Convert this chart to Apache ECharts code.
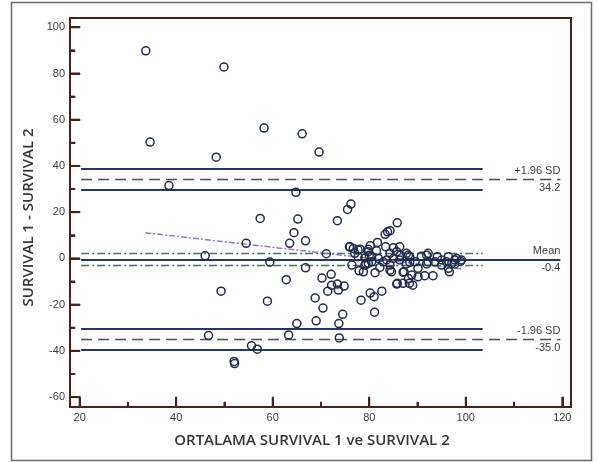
<!DOCTYPE html>
<html>
<head>
<meta charset="utf-8">
<script src="https://cdn.jsdelivr.net/npm/echarts@6/dist/echarts.min.js"></script>
<style>
  html, body { margin: 0; padding: 0; background: #ffffff; }
  #chart { width: 597px; height: 462px; }
</style>
</head>
<body>
<div id="chart"></div>
<script>
// Bland-Altman: mean of the two survival estimates vs. their difference
const points = [
  [33.7, 89.8], [34.6, 50.3], [49.9, 82.8], [48.3, 43.8], [58.2, 56.4], [38.5, 31.5],
  [66.1, 53.9], [69.6, 46.0], [64.8, 28.6], [57.4, 17.3], [65.2, 17.0], [64.4, 11.1],
  [73.4, 16.3], [76.2, 23.5], [75.5, 21.2], [66.8, 7.6], [63.5, 6.5], [54.5, 6.5],
  [46.0, 1.1], [59.4, -1.6], [66.8, -4.1], [75.9, 5.0], [77.7, 3.6], [77.9, -5.4],
  [62.8, -9.2], [70.2, -8.5], [72.1, -6.9], [79.1, -2.9], [79.8, 2.9], [71.1, 2.0],
  [49.3, -14.2], [58.9, -18.5], [46.7, -33.4], [55.6, -37.8], [56.8, -39.3],
  [52.1, -45.5], [52.0, -44.6], [65.0, -28.2], [63.3, -33.1], [72.2, -11.6],
  [73.4, -11.1], [74.8, -12.0], [73.6, -13.7], [71.4, -14.2], [68.8, -17.1],
  [70.4, -21.5], [69.0, -27.0], [74.5, -24.2], [73.7, -28.2], [73.8, -34.4],
  [81.2, -6.2], [84.6, -5.8], [85.7, -11.1], [82.6, -14.2], [80.2, -15.0],
  [81.0, -16.6], [78.3, -18.1], [81.1, -23.3], [85.8, -10.8], [87.0, -10.8],
  [88.3, -10.8], [89.0, -11.6], [88.1, -8.7], [87.2, -5.8], [91.5, -7.5],
  [93.2, -7.5], [96.6, -5.8], [90.1, -4.3], [82.2, -3.9], [84.3, -5.1],
  [76.4, -2.9], [79.3, -2.2], [76.0, 5.0], [78.1, 4.0], [80.2, 5.5], [81.7, 6.9],
  [83.4, 5.0], [85.0, 4.6], [86.3, 5.0], [83.3, 10.4], [84.3, 12.0], [81.5, 3.3],
  [77.0, 2.2], [91.9, 1.4], [94.1, 0.7], [96.0, -1.5], [97.7, -0.7], [98.9, -1.3],
  [97.1, -2.2], [92.2, -1.5], [90.8, 0.9], [88.4, 0.7], [89.5, -1.5], [87.7, -2.4],
  [86.3, -0.7], [85.0, 0.0], [83.6, -0.7], [81.9, 0.0], [80.5, -1.5], [79.1, 0.2],
  [77.7, 0.7], [80.0, 1.4], [84.3, 2.2], [85.7, 2.9], [87.7, 2.2], [93.6, -1.5],
  [95.0, -0.7], [85.8, 15.4], [83.8, 11.5], [79.8, 3.9], [76.7, 4.3], [88.1, 1.4],
  [92.2, 2.2], [96.4, 0.7], [98.1, 0.0], [99.1, -0.7], [88.4, -1.7], [91.9, -2.4],
  [95.0, -2.9], [97.7, -2.4], [87.0, -6.0], [88.8, -7.2], [90.1, -8.0], [96.4, -4.3],
  [80.5, 0.7], [82.9, -1.5], [84.3, -2.9], [79.8, -2.2], [86.4, 1.4], [78.8, -5.8]
];

// Agreement statistics
const meanDiff = -0.4;
const upperLimit = 34.2;
const lowerLimit = -35.0;
const limitCiHalf = 4.7;   // 95% CI half-width of each limit of agreement
const meanCiHalf = 2.6;    // 95% CI half-width of the mean difference
const regressionEnds = [[33.6, 11.1], [99.0, -4.5]];

// Axis ranges and ticks
const xRange = [18, 121.8];
const yRange = [-64.3, 104];
const xTicksMajor = [20, 40, 60, 80, 100, 120];
const xTicksMinor = [30, 50, 70, 90, 110];
const yTicksMajor = [-60, -40, -20, 0, 20, 40, 60, 80, 100];
const yTicksMinor = [-50, -30, -10, 10, 30, 50, 70, 90];

// Labels at the right end of the reference lines
const upperLabels = ['+1.96 SD', '34.2'];
const meanLabels = ['Mean', '-0.4'];
const lowerLabels = ['-1.96 SD', '-35.0'];

const frameColor = '#4a2219';
const navy = '#22376a';
const labelFont = { fontFamily: 'Liberation Sans, Arial, sans-serif', fontSize: 11, color: '#3a3a3a' };
const nameFont = { fontFamily: 'Open Sans', fontWeight: 600, fontSize: 15, color: '#353535' };

const W = 597, H = 462;
const GRID = { left: 70, right: 26, top: 18, bottom: 55 };

const lineStart = 20.3;
const ciEnd = 103.5;
const fullEnd = 119.6;

function seg(x1, x2, y, lineStyle, label) {
  const a = { coord: [x1, y], lineStyle: lineStyle };
  a.label = label ? label : { show: false };
  return [a, { coord: [x2, y] }];
}
const solidNavy = { color: navy, width: 2, type: 'solid' };
const dashedGray = { color: '#4d4d4d', width: 1.3, type: [11, 6] };
const dashDotGreen = { color: '#3d7a55', width: 1.3, type: [8, 3, 2, 3] };
const clear = { color: 'rgba(0,0,0,0)', width: 1 };
function topLabel(t) {
  return { show: true, position: 'insideEndTop', formatter: t, distance: [0, 3], ...labelFont };
}
function bottomLabel(t) {
  return { show: true, position: 'insideEndBottom', formatter: t, distance: [0, 3], ...labelFont };
}

const markLines = [
  // upper limit of agreement and its confidence interval
  seg(lineStart, ciEnd, upperLimit + limitCiHalf, solidNavy),
  seg(lineStart, ciEnd, upperLimit - limitCiHalf, solidNavy),
  seg(lineStart, fullEnd, upperLimit, dashedGray, topLabel(upperLabels[0])),
  seg(lineStart, fullEnd, upperLimit, clear, bottomLabel(upperLabels[1])),
  // mean difference and its confidence interval
  seg(lineStart, ciEnd, meanDiff + meanCiHalf, dashDotGreen),
  seg(lineStart, ciEnd, meanDiff - meanCiHalf, dashDotGreen),
  seg(lineStart, fullEnd, meanDiff, solidNavy, topLabel(meanLabels[0])),
  seg(lineStart, fullEnd, meanDiff, clear, bottomLabel(meanLabels[1])),
  // lower limit of agreement and its confidence interval
  seg(lineStart, ciEnd, lowerLimit + limitCiHalf, solidNavy),
  seg(lineStart, ciEnd, lowerLimit - limitCiHalf, solidNavy),
  seg(lineStart, fullEnd, lowerLimit, dashedGray, topLabel(lowerLabels[0])),
  seg(lineStart, fullEnd, lowerLimit, clear, bottomLabel(lowerLabels[1])),
  // regression of the differences on the means
  [
    { coord: regressionEnds[0], lineStyle: { color: '#8f78cf', width: 1.5, type: [6, 2, 2, 2] }, label: { show: false } },
    { coord: regressionEnds[1] }
  ]
];

// Inward tick marks, expressed in axis units (kept a hair inside the axis extent)
const MAJOR_LEN = 10, MINOR_LEN = 5;
const pxPerX = (W - GRID.left - GRID.right) / (xRange[1] - xRange[0]);
const pxPerY = (H - GRID.top - GRID.bottom) / (yRange[1] - yRange[0]);
const EPS_X = 0.3 / pxPerX, EPS_Y = 0.3 / pxPerY;
const tickStyle = { color: frameColor, width: 2, type: 'solid' };
function xTickLine(v, len) {
  const y0 = yRange[0] + EPS_Y;
  return [{ coord: [v, y0], lineStyle: tickStyle, label: { show: false } },
          { coord: [v, y0 + len / pxPerY] }];
}
function yTickLine(v, len) {
  const x0 = xRange[0] + EPS_X;
  return [{ coord: [x0, v], lineStyle: tickStyle, label: { show: false } },
          { coord: [x0 + len / pxPerX, v] }];
}
const tickLines = []
  .concat(xTicksMajor.map(v => xTickLine(v, MAJOR_LEN)))
  .concat(xTicksMinor.map(v => xTickLine(v, MINOR_LEN)))
  .concat(yTicksMajor.map(v => yTickLine(v, MAJOR_LEN)))
  .concat(yTicksMinor.map(v => yTickLine(v, MINOR_LEN)));

const chart = echarts.init(document.getElementById('chart'), null, { renderer: 'canvas' });

chart.setOption({
  animation: false,
  backgroundColor: '#ffffff',
  grid: {
    ...GRID,
    show: true, borderColor: frameColor, borderWidth: 2, backgroundColor: '#ffffff'
  },
  xAxis: {
    type: 'value', min: xRange[0], max: xRange[1], position: 'bottom',
    axisLine: { show: false, onZero: false },
    splitLine: { show: false },
    axisTick: { show: false },
    axisLabel: { show: true, margin: 5, customValues: xTicksMajor, ...labelFont },
    name: 'ORTALAMA SURVIVAL 1 ve SURVIVAL 2',
    nameLocation: 'middle', nameGap: 26,
    nameTextStyle: { ...nameFont, padding: [0, 17, 0, 0] }
  },
  yAxis: {
    type: 'value', min: yRange[0], max: yRange[1], position: 'left',
    axisLine: { show: false, onZero: false },
    splitLine: { show: false },
    axisTick: { show: false },
    axisLabel: { show: true, margin: 5, customValues: yTicksMajor, ...labelFont },
    name: 'SURVIVAL 1 - SURVIVAL 2',
    nameLocation: 'middle', nameGap: 26, nameRotate: 90,
    nameTextStyle: { ...nameFont, padding: [0, 10, 0, 0] }
  },
  graphic: [
    {
      type: 'rect', silent: true, z: -10,
      shape: { x: 11.5, y: 2.5, width: 580, height: 458 },
      style: { fill: 'none', stroke: '#6a6a6a', lineWidth: 1.5 }
    }
  ],
  series: [
    {
      type: 'scatter',
      symbol: 'circle', symbolSize: 8,
      clip: false,
      itemStyle: { color: 'rgba(255,255,255,0)', borderColor: '#1e2b4c', borderWidth: 1.5, opacity: 1 },
      data: points,
      z: 5,
      markLine: {
        silent: true, symbol: ['none', 'none'], animation: false,
        data: markLines.concat(tickLines)
      }
    }
  ]
});

// Same tick marks as graphic lines, placed with each axis's own value-to-pixel conversion
const bottomPx = H - GRID.bottom;
const leftPx = GRID.left;
const tickEls = [];
function addTick(x1, y1, x2, y2) {
  if ([x1, y1, x2, y2].some(n => typeof n !== 'number' || isNaN(n))) return;
  tickEls.push({
    type: 'line', silent: true, z: 100,
    shape: { x1, y1, x2, y2 },
    style: { stroke: frameColor, lineWidth: 2 }
  });
}
function xTickEl(v, len) {
  const px = chart.convertToPixel({ xAxisIndex: 0 }, v);
  addTick(px, bottomPx, px, bottomPx - len);
}
function yTickEl(v, len) {
  const py = chart.convertToPixel({ yAxisIndex: 0 }, v);
  addTick(leftPx, py, leftPx + len, py);
}
xTicksMajor.forEach(v => xTickEl(v, MAJOR_LEN));
xTicksMinor.forEach(v => xTickEl(v, MINOR_LEN));
yTicksMajor.forEach(v => yTickEl(v, MAJOR_LEN));
yTicksMinor.forEach(v => yTickEl(v, MINOR_LEN));

chart.setOption({
  graphic: [
    {
      type: 'rect', silent: true, z: -10,
      shape: { x: 11.5, y: 2.5, width: 580, height: 458 },
      style: { fill: 'none', stroke: '#6a6a6a', lineWidth: 1.5 }
    }
  ].concat(tickEls)
});
</script>
</body>
</html>
